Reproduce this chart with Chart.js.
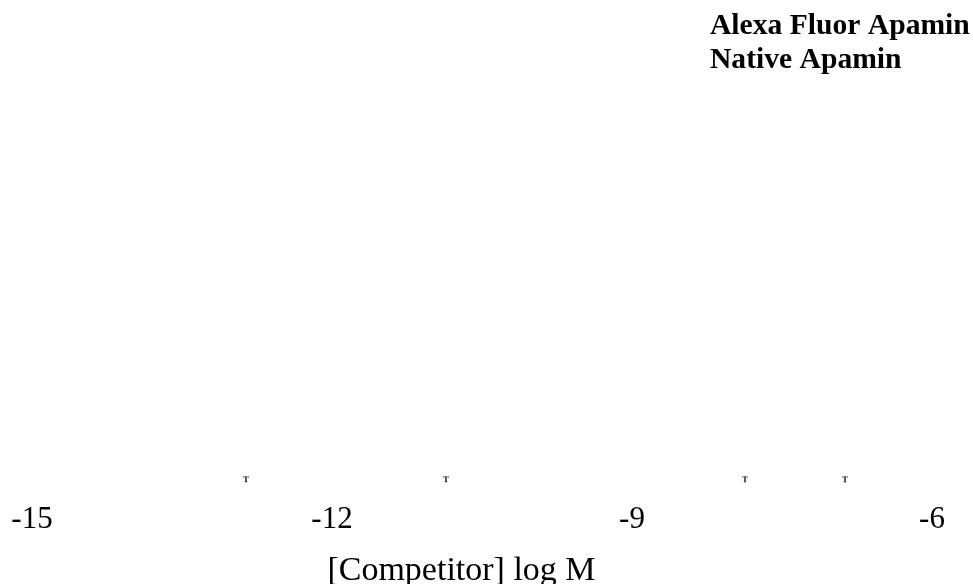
<!DOCTYPE html>
<html>
<head>
<meta charset="utf-8">
<script src="https://cdn.jsdelivr.net/npm/chart.js@4"></script>
<style>
  html, body { margin: 0; padding: 0; background: #fff; }
  #wrap { width: 973px; height: 584px; }
</style>
</head>
<body>
<div id="wrap"><canvas id="c" width="973" height="584"></canvas></div>
<script>
// Competitor concentrations (log M) and binding values for each series
const seriesNames = ['Alexa Fluor Apamin', 'Native Apamin'];
const alexaLogM = [-12.86, -10.86];
const alexaBinding = [1, 1];
const nativeLogM = [-7.87, -6.87];
const nativeBinding = [1, 1];
const xTicks = [-15, -12, -9, -6];
const xTitle = '[Competitor] log M';

// Small "T" glyph used as the marker (error-bar cap style)
function capMarker() {
  const cv = document.createElement('canvas');
  cv.width = 8; cv.height = 9;
  const g = cv.getContext('2d');
  g.fillStyle = '#111';
  g.font = 'bold 9px "Liberation Serif"';
  g.textAlign = 'center';
  g.textBaseline = 'middle';
  g.fillText('T', 4, 5);
  return cv;
}
const marker = capMarker();

function toPoints(xs, ys) { return xs.map((x, i) => ({ x: x, y: ys[i] })); }

// Legend drawn as plain bold text lines at the top right
const textLegend = {
  id: 'textLegend',
  afterDraw(chart) {
    const ctx = chart.ctx;
    ctx.save();
    ctx.fillStyle = '#000';
    ctx.font = 'bold 29.6px "Liberation Serif"';
    ctx.textAlign = 'left';
    ctx.textBaseline = 'alphabetic';
    chart.data.datasets.forEach((ds, i) => {
      ctx.fillText(ds.label, 710, 34 + i * 34);
    });
    ctx.restore();
  }
};

// Axis title under the tick labels
const axisTitle = {
  id: 'axisTitle',
  afterDraw(chart) {
    const ctx = chart.ctx;
    ctx.save();
    ctx.fillStyle = '#000';
    ctx.font = '34px "Liberation Serif"';
    ctx.textAlign = 'center';
    ctx.textBaseline = 'alphabetic';
    ctx.fillText(xTitle, 461.5, 580);
    ctx.restore();
  }
};

new Chart(document.getElementById('c'), {
  type: 'scatter',
  data: {
    datasets: [
      { label: seriesNames[0], data: toPoints(alexaLogM, alexaBinding), pointStyle: marker, pointRadius: 4, showLine: false },
      { label: seriesNames[1], data: toPoints(nativeLogM, nativeBinding), pointStyle: marker, pointRadius: 4, showLine: false }
    ]
  },
  options: {
    responsive: false,
    animation: false,
    devicePixelRatio: 1,
    layout: { padding: { left: 32, right: 41, top: 80, bottom: 37 } },
    plugins: { legend: { display: false }, tooltip: { enabled: false } },
    scales: {
      x: {
        type: 'linear',
        min: -15,
        max: -6,
        afterBuildTicks(scale) { scale.ticks = xTicks.map(v => ({ value: v })); },
        grid: { display: false },
        border: { display: false },
        ticks: {
          color: '#000',
          padding: 9,
          maxRotation: 0,
          autoSkip: false,
          font: { family: 'Liberation Serif', size: 31 }
        }
      },
      y: {
        display: false,
        min: 0,
        max: 100
      }
    }
  },
  plugins: [textLegend, axisTitle]
});
</script>
</body>
</html>
